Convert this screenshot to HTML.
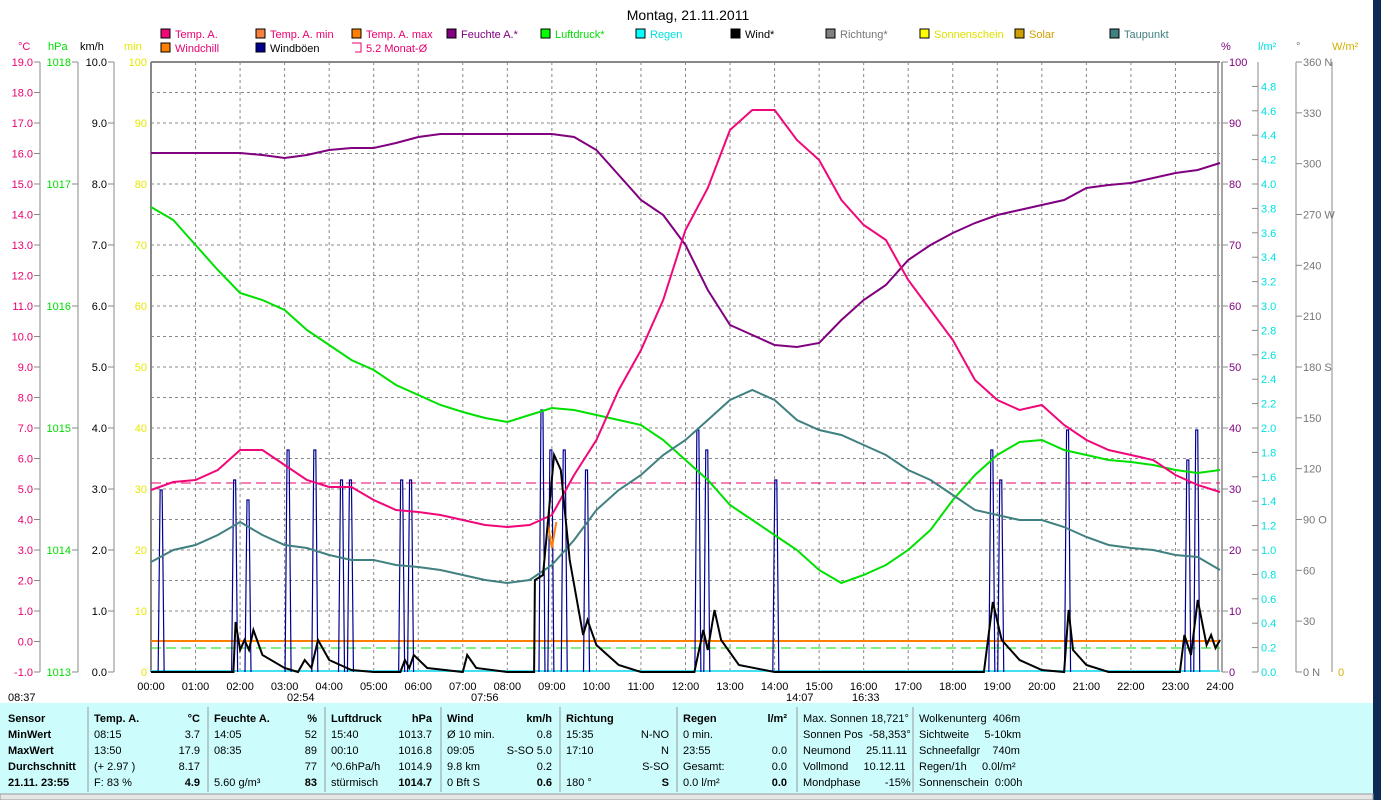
<!DOCTYPE html>
<html><head><meta charset="utf-8"><style>
body{margin:0;width:1381px;height:800px;overflow:hidden;background:#fff;font-family:"Liberation Sans",sans-serif}
svg{position:absolute;left:0;top:0}
text{font-family:"Liberation Sans",sans-serif;font-size:11px}
</style></head><body>
<svg id="s" width="1381" height="800" xmlns="http://www.w3.org/2000/svg">
<rect x="1373" y="0" width="8" height="800" fill="#0c2a55"/>
<text x="688" y="20" text-anchor="middle" font-size="14" style="font-size:14px">Montag, 21.11.2011</text>
<rect x="0" y="703" width="1373" height="91" fill="#ccfcfc"/>
<rect x="0" y="794" width="1373" height="6" fill="#e6e6e6" stroke="#999"/>
</svg>
<script>
const s=document.getElementById('s');let h='';
const L=151,R=1220,T=62,B=672,hw=(R-L)/24;
const X=t=>L+t*hw;
// grid
for(let i=1;i<24;i++)h+=`<line x1="${X(i)}" y1="${T}" x2="${X(i)}" y2="${B}" stroke="#888" stroke-dasharray="3,3"/>`;
for(let i=1;i<20;i++){let y=T+i*30.5;h+=`<line x1="${L}" y1="${y}" x2="${R}" y2="${y}" stroke="#888" stroke-dasharray="3,3"/>`;}
h+=`<line x1="${L}" y1="${T}" x2="${R}" y2="${T}" stroke="#888" stroke-width="2"/>`;
h+=`<line x1="${L}" y1="${T}" x2="${L}" y2="${B}" stroke="#888" stroke-width="2"/>`;
h+=`<line x1="${R-2}" y1="${T}" x2="${R-2}" y2="${B}" stroke="#888" stroke-width="1.5"/><line x1="${R+2}" y1="${T}" x2="${R+2}" y2="${B}" stroke="#888" stroke-width="1.5"/>`;
// left axes
function axis(x,vals,col,fmt,tick){h+=`<line x1="${x}" y1="${T}" x2="${x}" y2="${B}" stroke="#888"/>`;
 vals.forEach(([v,y])=>{h+=`<line x1="${x-(tick<0?6:0)}" y1="${y}" x2="${x+(tick>0?6:0)}" y2="${y}" stroke="#888"/>`;
 h+=`<text x="${tick<0?x-7:x+8}" y="${y+4}" fill="${col}" text-anchor="${tick<0?'end':'start'}">${v}</text>`;});}
let a=[];for(let i=0;i<=20;i++)a.push([(19-i).toFixed(1),T+i*30.5]);axis(40,a,'#e8006e',0,-1);
a=[];for(let i=0;i<=5;i++)a.push([1018-i,T+i*122]);axis(78,a,'#00dd00',0,-1);
a=[];for(let i=0;i<=10;i++)a.push([(10-i).toFixed(1),T+i*61]);axis(114,a,'#000',0,-1);
for(let i=0;i<=10;i++)h+=`<text x="147" y="${T+i*61+4}" fill="#e8e800" text-anchor="end">${100-i*10}</text>`;
for(let i=0;i<=10;i++)h+=`<line x1="${R+2}" y1="${T+i*61}" x2="${R+8}" y2="${T+i*61}" stroke="#888"/><text x="${R+9}" y="${T+i*61+4}" fill="#800080">${100-i*10}</text>`;
h+=`<line x1="1258" y1="${T}" x2="1258" y2="${B}" stroke="#888"/>`;
for(let i=0;i<=24;i++){let v=(4.8-i*0.2),y=T+24.4+i*24.4;if(y>B)break;h+=`<line x1="1252" y1="${y}" x2="1258" y2="${y}" stroke="#888"/><text x="1261" y="${y+4}" fill="#00e0e0">${Math.abs(v).toFixed(1)}</text>`;}
h+=`<line x1="1296" y1="${T}" x2="1296" y2="${B}" stroke="#888"/><line x1="1332" y1="${T}" x2="1332" y2="${B}" stroke="#888"/>`;
const dl={360:'N',270:'W',180:'S',90:'O',0:'N'};
for(let i=0;i<=12;i++){let v=360-i*30,y=T+i*50.83;h+=`<line x1="1296" y1="${y}" x2="1302" y2="${y}" stroke="#888"/><text x="1303" y="${y+4}" fill="#777">${v}${dl[v]!==undefined?' '+dl[v]:''}</text>`;}
h+=`<text x="1338" y="676" fill="#d0b000">0</text>`;
// unit headers
[['°C',18,'#e8006e'],['hPa',48,'#00dd00'],['km/h',80,'#000'],['min',124,'#e8e800'],['%',1221,'#800080'],['l/m²',1258,'#00e0e0'],['°',1296,'#777'],['W/m²',1332,'#d0b000']].forEach(([t,x,c])=>h+=`<text x="${x}" y="50" fill="${c}">${t}</text>`);
// legend
const lg=[['Temp. A.',161,37,'#f0087a','#e8006e'],['Temp. A. min',256,37,'#f88040','#e8006e'],['Temp. A. max',352,37,'#ff8000','#e8006e'],['Feuchte A.*',447,37,'#800080','#800080'],['Luftdruck*',541,37,'#00ff00','#00dd00'],['Regen',636,37,'#00ffff','#00e0e0'],['Wind*',731,37,'#000','#000'],['Richtung*',826,37,'#808080','#777'],['Sonnenschein',920,37,'#ffff00','#e0e000'],['Solar',1015,37,'#d0a000','#d0a000'],['Taupunkt',1110,37,'#408080','#408080'],['Windchill',161,51,'#ff8000','#e8006e'],['Windböen',256,51,'#000090','#000']];
lg.forEach(([t,x,y,c,tc])=>h+=`<rect x="${x}" y="${y-8}" width="9" height="9" fill="${c}" stroke="#000"/><text x="${x+14}" y="${y+1}" fill="${tc}">${t}</text>`);
h+=`<path d="M352 43h9v9h-6" fill="none" stroke="#e8006e"/><text x="366" y="52" fill="#e8006e">5.2 Monat-Ø</text>`;
// time labels
for(let i=0;i<=24;i++)h+=`<text x="${X(i)}" y="690" text-anchor="middle" fill="#000">${String(i).padStart(2,'0')}:00</text>`;
h+=`<text x="8" y="701" font-size="10">08:37</text><text x="287" y="701">02:54</text><text x="471" y="701">07:56</text><text x="786" y="701">14:07</text><text x="852" y="701">16:33</text>`;
// ref lines
h+=`<line x1="${L}" y1="483" x2="${R}" y2="483" stroke="#e8006e" stroke-dasharray="10,5"/>`;
h+=`<line x1="${L}" y1="641" x2="${R}" y2="641" stroke="#ff8000" stroke-width="2"/>`;
h+=`<line x1="${L}" y1="648" x2="${R}" y2="648" stroke="#00e000" stroke-dasharray="10,5"/>`;
h+=`<line x1="${L}" y1="671" x2="${R}" y2="671" stroke="#40e0f0" stroke-width="2"/>`;
function pl(arr,c,w){let p=arr.map((y,i)=>`${X(i/2).toFixed(1)},${y}`).join(' ');h+=`<polyline points="${p}" fill="none" stroke="${c}" stroke-width="${w}"/>`;}
// gusts
const g=[0.25,1.9,2.2,3.1,3.7,4.3,4.5,5.65,5.85,8.8,9.0,9.3,9.8,12.3,12.5,14.05,18.9,19.1,20.6,23.3,23.5];
const gh=[490,480,500,450,450,480,480,480,480,410,450,450,470,430,450,480,450,480,430,460,430];
g.forEach((t,i)=>{let x=X(t);h+=`<polyline points="${x-4},672 ${x-2},${gh[i]} ${x},${gh[i]} ${x+2},672" fill="none" stroke="#000090" stroke-width="1.2"/>`;});
pl([207,220,245,270,293,300,310,330,345,360,370,385,395,405,412,418,422,415,408,410,415,420,425,440,460,480,505,520,535,550,570,583,575,565,550,530,500,475,455,442,440,450,455,460,462,465,470,473,470],'#00e000',2);
pl([562,550,545,535,522,535,545,548,555,560,560,565,567,570,575,580,583,580,565,540,510,490,475,455,440,420,400,390,400,420,430,435,445,455,470,480,495,510,515,520,520,527,537,545,548,550,555,557,570],'#408080',2);
pl([153,153,153,153,153,155,158,155,150,148,148,143,137,134,134,134,134,134,134,137,150,175,200,215,245,290,325,335,345,347,343,320,300,285,260,245,233,223,215,210,205,200,188,185,183,178,173,170,163],'#800080',2);
pl([490,482,480,470,450,450,465,480,487,487,500,510,512,515,520,525,527,525,515,475,440,390,350,300,230,188,130,110,110,140,160,200,225,240,280,310,340,380,400,410,405,425,440,450,455,460,475,485,492],'#f0087a',2);
h+=`<polyline points="${X(8.9)},522 ${X(9)},548 ${X(9.1)},522" fill="none" stroke="#ff8000" stroke-width="2"/>`;
// wind black
const w=[[0,672],[1.85,672],[1.9,622],[2.0,650],[2.1,640],[2.2,650],[2.3,630],[2.5,655],[3,668],[3.3,672],[3.45,660],[3.6,668],[3.75,640],[4,660],[4.5,670],[5,672],[5.6,672],[5.7,660],[5.8,668],[5.9,655],[6.2,668],[7,672],[7.1,655],[7.3,668],[8,672],[8.6,672],[8.62,580],[8.8,575],[9.05,455],[9.2,470],[9.4,560],[9.7,635],[9.8,620],[10,645],[10.5,665],[11,672],[12.2,672],[12.4,630],[12.5,650],[12.65,610],[12.8,640],[13.2,665],[14,672],[18.7,672],[18.9,602],[19.1,640],[19.5,660],[20,670],[20.5,672],[20.6,610],[20.7,650],[21,665],[21.5,672],[23.1,672],[23.2,635],[23.35,655],[23.5,600],[23.7,645],[23.8,635],[23.9,648],[24,640]];
h+=`<polyline points="${w.map(([t,y])=>X(t).toFixed(1)+','+y).join(' ')}" fill="none" stroke="#000" stroke-width="2"/>`;
// bottom table
const tx=(x,y,t,b,an)=>h+=`<text x="${x}" y="${y}" ${b?'font-weight="bold"':''} ${an?'text-anchor="end"':''} fill="#000">${t}</text>`;
const rows=[722,738,754,770,786];
[['Sensor','MinWert','MaxWert','Durchschnitt','21.11. 23:55']].forEach(c=>c.forEach((t,i)=>tx(8,rows[i],t,1)));
const cols=[[94,200,['Temp. A.','08:15','13:50','(+ 2.97 )','F: 83 %'],['°C','3.7','17.9','8.17','4.9']],[214,317,['Feuchte A.','14:05','08:35','','5.60 g/m³'],['%','52','89','77','83']],[331,432,['Luftdruck','15:40','00:10','^0.6hPa/h','stürmisch'],['hPa','1013.7','1016.8','1014.9','1014.7']],[447,552,['Wind','Ø 10 min.','09:05','9.8 km','0 Bft S'],['km/h','0.8','S-SO 5.0','0.2','0.6']],[566,669,['Richtung','15:35','17:10','','180 °'],['','N-NO','N','S-SO','S']],[683,787,['Regen','0 min.','23:55','Gesamt:','0.0 l/m²'],['l/m²','','0.0','0.0','0.0']]];
cols.forEach(([x1,x2,l,r])=>{l.forEach((t,i)=>tx(x1,rows[i],t,i==0));r.forEach((t,i)=>tx(x2,rows[i],t,i==0||i==4,1));});
[88,208,325,441,560,677,797,913].forEach(x=>h+=`<line x1="${x}" y1="707" x2="${x}" y2="792" stroke="#999"/>`);
[['Max. Sonnen 18,721°'],['Sonnen Pos  -58,353°'],['Neumond     25.11.11'],['Vollmond     10.12.11'],['Mondphase        -15%']].forEach((t,i)=>h+=`<text x="803" y="${rows[i]}" xml:space="preserve">${t}</text>`);
['Wolkenunterg  406m','Sichtweite     5-10km','Schneefallgr    740m','Regen/1h     0.0l/m²','Sonnenschein  0:00h'].forEach((t,i)=>h+=`<text x="919" y="${rows[i]}" xml:space="preserve">${t}</text>`);
s.insertAdjacentHTML('beforeend',h);
</script>
</body></html>
